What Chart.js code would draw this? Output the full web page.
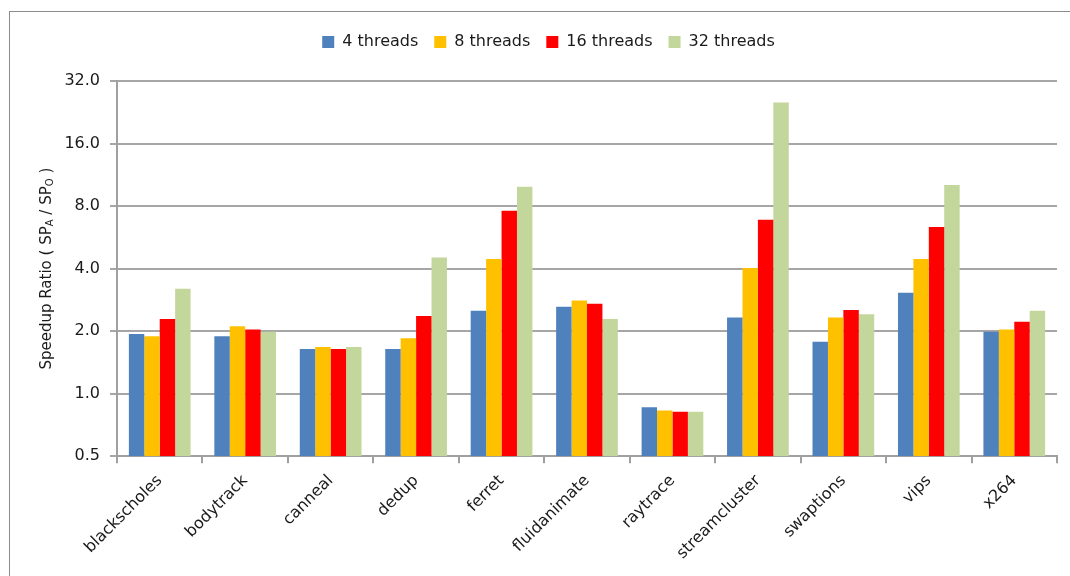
<!DOCTYPE html>
<html>
<head>
<meta charset="utf-8">
<script src="https://cdn.jsdelivr.net/npm/chart.js@4.4.1/dist/chart.umd.min.js"></script>
<style>
  html, body { margin: 0; padding: 0; background: #ffffff; }
  #wrap { position: relative; width: 1070px; height: 576px; }
  #frame {
    position: absolute; left: 9px; top: 11px; width: 1061px; height: 565px;
    border-top: 1px solid #8c8c8c; border-left: 1px solid #8c8c8c;
    pointer-events: none;
  }
</style>
</head>
<body>
<div id="wrap">
  <canvas id="chart" width="1070" height="576"></canvas>
  <div id="frame"></div>
</div>
<script>
// Benchmarks and speedup ratios per thread count
const categories = ['blackscholes', 'bodytrack', 'canneal', 'dedup', 'ferret', 'fluidanimate',
                    'raytrace', 'streamcluster', 'swaptions', 'vips', 'x264'];
const threads4  = [1.94, 1.89, 1.64, 1.64, 2.51, 2.62, 0.86, 2.33, 1.78, 3.06, 1.99];
const threads8  = [1.89, 2.11, 1.68, 1.85, 4.45, 2.81, 0.83, 4.03, 2.33, 4.45, 2.04];
const threads16 = [2.29, 2.04, 1.64, 2.37, 7.60, 2.71, 0.82, 6.88, 2.53, 6.34, 2.22];
const threads32 = [3.20, 1.99, 1.68, 4.53, 9.90, 2.29, 0.82, 25.2, 2.41, 10.1, 2.51];
const seriesNames = ['4 threads', '8 threads', '16 threads', '32 threads'];
const seriesColors = ['#4F81BD', '#FFC000', '#FF0000', '#C3D69B'];
const yTickValues = [0.5, 1, 2, 4, 8, 16, 32];

const FONT = 'DejaVu Sans';
const TEXT = '#1a1a1a';

// Rotated y-axis title with subscript letters
const axisTitlePlugin = {
  id: 'axisTitle',
  afterDraw(chart) {
    const ctx = chart.ctx;
    const area = chart.chartArea;
    const parts = [
      { t: 'Speedup Ratio ( SP', sub: false },
      { t: 'A', sub: true },
      { t: ' / SP', sub: false },
      { t: 'O', sub: true },
      { t: ' )', sub: false }
    ];
    const main = '15px "' + FONT + '"';
    const small = '10px "' + FONT + '"';
    ctx.save();
    let total = 0;
    parts.forEach(p => { ctx.font = p.sub ? small : main; p.w = ctx.measureText(p.t).width; total += p.w; });
    ctx.translate(area.left - 70, (area.top + area.bottom) / 2);
    ctx.rotate(-Math.PI / 2);
    ctx.fillStyle = TEXT;
    ctx.textBaseline = 'middle';
    ctx.textAlign = 'left';
    let x = -total / 2;
    parts.forEach(p => {
      ctx.font = p.sub ? small : main;
      ctx.fillText(p.t, x, p.sub ? 3 : 0);
      x += p.w;
    });
    ctx.restore();
  }
};

// Extra space under the legend
const legendGapPlugin = {
  id: 'legendGap',
  beforeInit(chart) {
    const fit = chart.legend.fit;
    chart.legend.fit = function () {
      fit.bind(chart.legend)();
      this.height += 21;
    };
  }
};

const datasets = [threads4, threads8, threads16, threads32].map((vals, i) => ({
  label: seriesNames[i],
  data: vals,
  backgroundColor: seriesColors[i],
  borderWidth: 0,
  categoryPercentage: 0.722,
  barPercentage: 1.0
}));

new Chart(document.getElementById('chart'), {
  type: 'bar',
  data: { labels: categories, datasets },
  plugins: [axisTitlePlugin, legendGapPlugin],
  options: {
    responsive: false,
    animation: false,
    layout: { padding: { left: 40, right: 13, top: 18, bottom: 5 } },
    plugins: {
      tooltip: { enabled: false },
      legend: {
        position: 'top',
        labels: {
          boxWidth: 12, boxHeight: 12, padding: 16,
          color: TEXT,
          font: { family: FONT, size: 16 }
        }
      }
    },
    scales: {
      x: {
        grid: { display: true, drawOnChartArea: false, drawTicks: true, tickLength: 7,
                color: '#a0a0a0', lineWidth: 2, offset: true },
        border: { display: true, color: '#a0a0a0', width: 2 },
        ticks: { autoSkip: false, minRotation: 45, maxRotation: 45, padding: 8,
                 color: TEXT, font: { family: FONT, size: 16 } }
      },
      y: {
        type: 'logarithmic',
        min: 0.5,
        max: 32,
        afterBuildTicks(axis) { axis.ticks = yTickValues.map(v => ({ value: v })); },
        afterFit(axis) { axis.width = 77; },
        grid: { color: '#a6a6a6', lineWidth: 2, tickLength: 7 },
        border: { display: true, color: '#a0a0a0', width: 2 },
        ticks: { padding: 10, color: TEXT, font: { family: FONT, size: 16 },
                 callback: v => Number(v).toFixed(1) }
      }
    }
  }
});
</script>
</body>
</html>
